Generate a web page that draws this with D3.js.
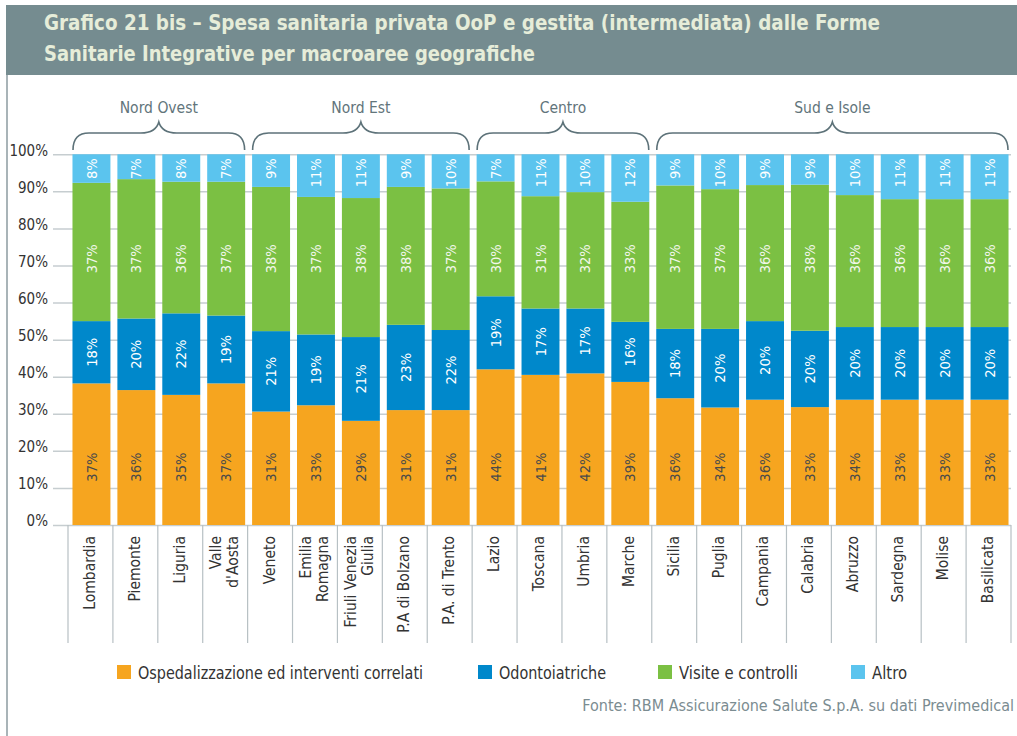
<!DOCTYPE html>
<html>
<head>
<meta charset="utf-8">
<script src="https://cdn.jsdelivr.net/npm/d3@7"></script>
<style>
  html, body { margin: 0; padding: 0; background: #ffffff; }
  svg { display: block; }
  .cond { font-family: "DejaVu Sans Condensed", "DejaVu Sans", sans-serif; font-stretch: condensed; }
</style>
</head>
<body>
<svg id="chart" width="1017" height="736"></svg>
<script>
// ---------- DATA ----------
const titleLines = [
  "Grafico 21 bis – Spesa sanitaria privata OoP e gestita (intermediata) dalle Forme",
  "Sanitarie Integrative per macroaree geografiche"
];
const categories = [
  "Lombardia", "Piemonte", "Liguria", "Valle\nd'Aosta",
  "Veneto", "Emilia\nRomagna", "Friuli Venezia\nGiulia", "P.A di Bolzano", "P.A. di Trento",
  "Lazio", "Toscana", "Umbria", "Marche",
  "Sicilia", "Puglia", "Campania", "Calabria", "Abruzzo", "Sardegna", "Molise", "Basilicata"
];
const groupNames = ["Nord Ovest", "Nord Est", "Centro", "Sud e Isole"];
const groupFirst = [0, 4, 9, 13];
const groupLast = [3, 8, 12, 20];

const seriesNames = ["Ospedalizzazione ed interventi correlati", "Odontoiatriche", "Visite e controlli", "Altro"];
const seriesColors = ["#f6a51f", "#0088cb", "#7bc043", "#5bc4ee"];

// bar heights (%), as drawn
const ospedalizzazione = [38.2, 36.4, 35.1, 38.2, 30.6, 32.3, 28.1, 31.0, 31.0, 42.0, 40.5, 40.9, 38.6, 34.2, 31.7, 33.8, 31.8, 33.8, 33.8, 33.8, 33.8];
const odontoiatriche   = [16.8, 19.3, 22.0, 18.3, 21.7, 19.1, 22.6, 23.0, 21.6, 19.7, 17.9, 17.5, 16.2, 18.7, 21.2, 21.2, 20.6, 19.6, 19.6, 19.6, 19.6];
const visite           = [37.3, 37.6, 35.5, 36.1, 38.9, 37.1, 37.5, 37.2, 38.2, 31.0, 30.3, 31.4, 32.4, 38.7, 37.7, 36.7, 39.4, 35.6, 34.5, 34.5, 34.5];
const altro            = [7.7, 6.7, 7.4, 7.4, 8.8, 11.5, 11.8, 8.8, 9.2, 7.3, 11.3, 10.2, 12.8, 8.4, 9.4, 8.3, 8.2, 11.0, 12.1, 12.1, 12.1];

// printed data labels (%)
const labelsOspedalizzazione = [37, 36, 35, 37, 31, 33, 29, 31, 31, 44, 41, 42, 39, 36, 34, 36, 33, 34, 33, 33, 33];
const labelsOdontoiatriche   = [18, 20, 22, 19, 21, 19, 21, 23, 22, 19, 17, 17, 16, 18, 20, 20, 20, 20, 20, 20, 20];
const labelsVisite           = [37, 37, 36, 37, 38, 37, 38, 38, 37, 30, 31, 32, 33, 37, 37, 36, 38, 36, 36, 36, 36];
const labelsAltro            = [8, 7, 8, 7, 9, 11, 11, 9, 10, 7, 11, 10, 12, 9, 10, 9, 9, 10, 11, 11, 11];

const yTicks = [0, 10, 20, 30, 40, 50, 60, 70, 80, 90, 100];
const sourceText = "Fonte: RBM Assicurazione Salute S.p.A. su dati Previmedical";

// ---------- CHART ----------
const svg = d3.select("#chart");
const FONT = "DejaVu Sans Condensed, DejaVu Sans, sans-serif";

// header band
svg.append("rect").attr("x", 6).attr("y", 5).attr("width", 1011).attr("height", 70).attr("fill", "#758c90");
svg.append("line").attr("x1", 7).attr("x2", 7).attr("y1", 75).attr("y2", 736)
  .attr("stroke", "#a9b4b8").attr("stroke-width", 2);

const titleWidths = [836, 491];
titleLines.forEach((t, i) => {
  svg.append("text").attr("class", "cond")
    .attr("x", 44).attr("y", 30 + i * 31)
    .attr("font-size", 21.5).attr("font-weight", "bold")
    .attr("fill", "#e6edd9")
    .attr("textLength", titleWidths[i]).attr("lengthAdjust", "spacingAndGlyphs")
    .text(t);
});

const y = d3.scaleLinear().domain([0, 100]).range([525, 154.3]);
const xBand = d3.scaleBand().domain(categories).range([68, 1011]).padding(0);
const xBar = d3.scaleBand().domain(categories).range([69, 1012]).paddingInner(0.155).paddingOuter(0.0775);

// gridlines + y labels
const yAxis = d3.axisLeft(y).tickValues(yTicks).tickFormat(d => d + "%")
  .tickSize(-(1011 - 53)).tickPadding(5);
const gy = svg.append("g").attr("transform", "translate(53,0)").call(yAxis);
gy.select(".domain").remove();
gy.selectAll(".tick line").attr("stroke", "#c6cdd0").attr("stroke-width", 1.5);
gy.selectAll(".tick text").attr("font-family", FONT).attr("font-stretch", "condensed").attr("font-size", 15)
  .attr("fill", "#333").attr("dy", "0.05em");

// stacked bars
const table = categories.map((c, i) => ({
  cat: c,
  ospedalizzazione: ospedalizzazione[i],
  odontoiatriche: odontoiatriche[i],
  visite: visite[i],
  altro: altro[i]
}));
const keys = ["ospedalizzazione", "odontoiatriche", "visite", "altro"];
const stack = d3.stack().keys(keys)(table);

stack.forEach((layer, k) => {
  svg.append("g").selectAll("rect").data(layer).join("rect")
    .attr("x", d => xBar(d.data.cat))
    .attr("width", xBar.bandwidth())
    .attr("y", d => y(d[1]))
    .attr("height", d => y(d[0]) - y(d[1]))
    .attr("fill", seriesColors[k]);
});

// data labels
const labelSets = [labelsOspedalizzazione, labelsOdontoiatriche, labelsVisite, labelsAltro];
const labelColors = ["#4a4a4a", "#ffffff", "#f2f7ea", "#ffffff"];
stack.forEach((layer, k) => {
  svg.append("g").selectAll("text").data(layer).join("text")
    .attr("font-family", FONT).attr("font-stretch", "condensed")
    .attr("font-size", 14.5)
    .attr("fill", labelColors[k])
    .attr("text-anchor", k === 3 ? "end" : "middle")
    .attr("dy", "0.35em")
    .attr("transform", (d, i) => {
      const cx = xBar(d.data.cat) + xBar.bandwidth() / 2;
      let cy;
      if (k === 0) cy = y(15.6);
      else if (k === 2) cy = y(71.8);
      else if (k === 1) cy = (y(d[0]) + y(d[1])) / 2;
      else cy = y(d[1]) + 4;
      return `translate(${cx},${cy}) rotate(-90)`;
    })
    .text((d, i) => labelSets[k][i] + "%");
});

// category separators
const bounds = categories.map(c => xBand(c)).concat([xBand.range()[1]]);
svg.append("g").selectAll("line").data(bounds).join("line")
  .attr("x1", d => d).attr("x2", d => d)
  .attr("y1", 525).attr("y2", 643)
  .attr("stroke", "#b7c0c4").attr("stroke-width", 1.2);

// category labels
const catG = svg.append("g");
categories.forEach(c => {
  const lines = c.split("\n");
  const cx = xBand(c) + xBand.bandwidth() / 2;
  lines.forEach((ln, j) => {
    const off = (j - (lines.length - 1) / 2) * 17;
    catG.append("text")
      .attr("font-family", FONT).attr("font-stretch", "condensed")
      .attr("font-size", 15.5).attr("fill", "#333")
      .attr("text-anchor", "end").attr("dy", "0.35em")
      .attr("transform", `translate(${cx + off - 1},536) rotate(-90)`)
      .text(ln);
  });
});

// group braces
const braceG = svg.append("g");
groupNames.forEach((g, i) => {
  const x0 = xBand(categories[groupFirst[i]]) + 5;
  const x1 = xBand(categories[groupLast[i]]) + xBand.bandwidth() - 3;
  const xm = (x0 + x1) / 2;
  const yb = 150, yt = 133, yp = 122;
  const p = d3.path();
  p.moveTo(x0, yb);
  p.quadraticCurveTo(x0, yt, x0 + 16, yt);
  p.lineTo(xm - 18, yt);
  p.quadraticCurveTo(xm - 3, yt, xm, yp);
  p.quadraticCurveTo(xm + 3, yt, xm + 18, yt);
  p.lineTo(x1 - 16, yt);
  p.quadraticCurveTo(x1, yt, x1, yb);
  braceG.append("path").attr("d", p.toString())
    .attr("fill", "none").attr("stroke", "#5d7279").attr("stroke-width", 1.6);
  braceG.append("text")
    .attr("font-family", FONT).attr("font-stretch", "condensed")
    .attr("font-size", 15.5).attr("fill", "#62757b")
    .attr("text-anchor", "middle").attr("x", xm).attr("y", 113)
    .text(g);
});

// legend
const legX = [117, 478, 658, 851];
const legW = [285, 107, 119, 35];
const legG = svg.append("g");
seriesNames.forEach((s, i) => {
  legG.append("rect").attr("x", legX[i]).attr("y", 665).attr("width", 14).attr("height", 14)
    .attr("fill", seriesColors[i]);
  legG.append("text")
    .attr("font-family", FONT).attr("font-stretch", "condensed")
    .attr("font-size", 17).attr("fill", "#333")
    .attr("x", legX[i] + 21).attr("y", 679)
    .attr("textLength", legW[i]).attr("lengthAdjust", "spacingAndGlyphs")
    .text(s);
});

// source
svg.append("text")
  .attr("font-family", FONT).attr("font-stretch", "condensed")
  .attr("font-size", 16).attr("fill", "#7b8c91")
  .attr("text-anchor", "end")
  .attr("x", 1014).attr("y", 711)
  .text(sourceText);
</script>
</body>
</html>
